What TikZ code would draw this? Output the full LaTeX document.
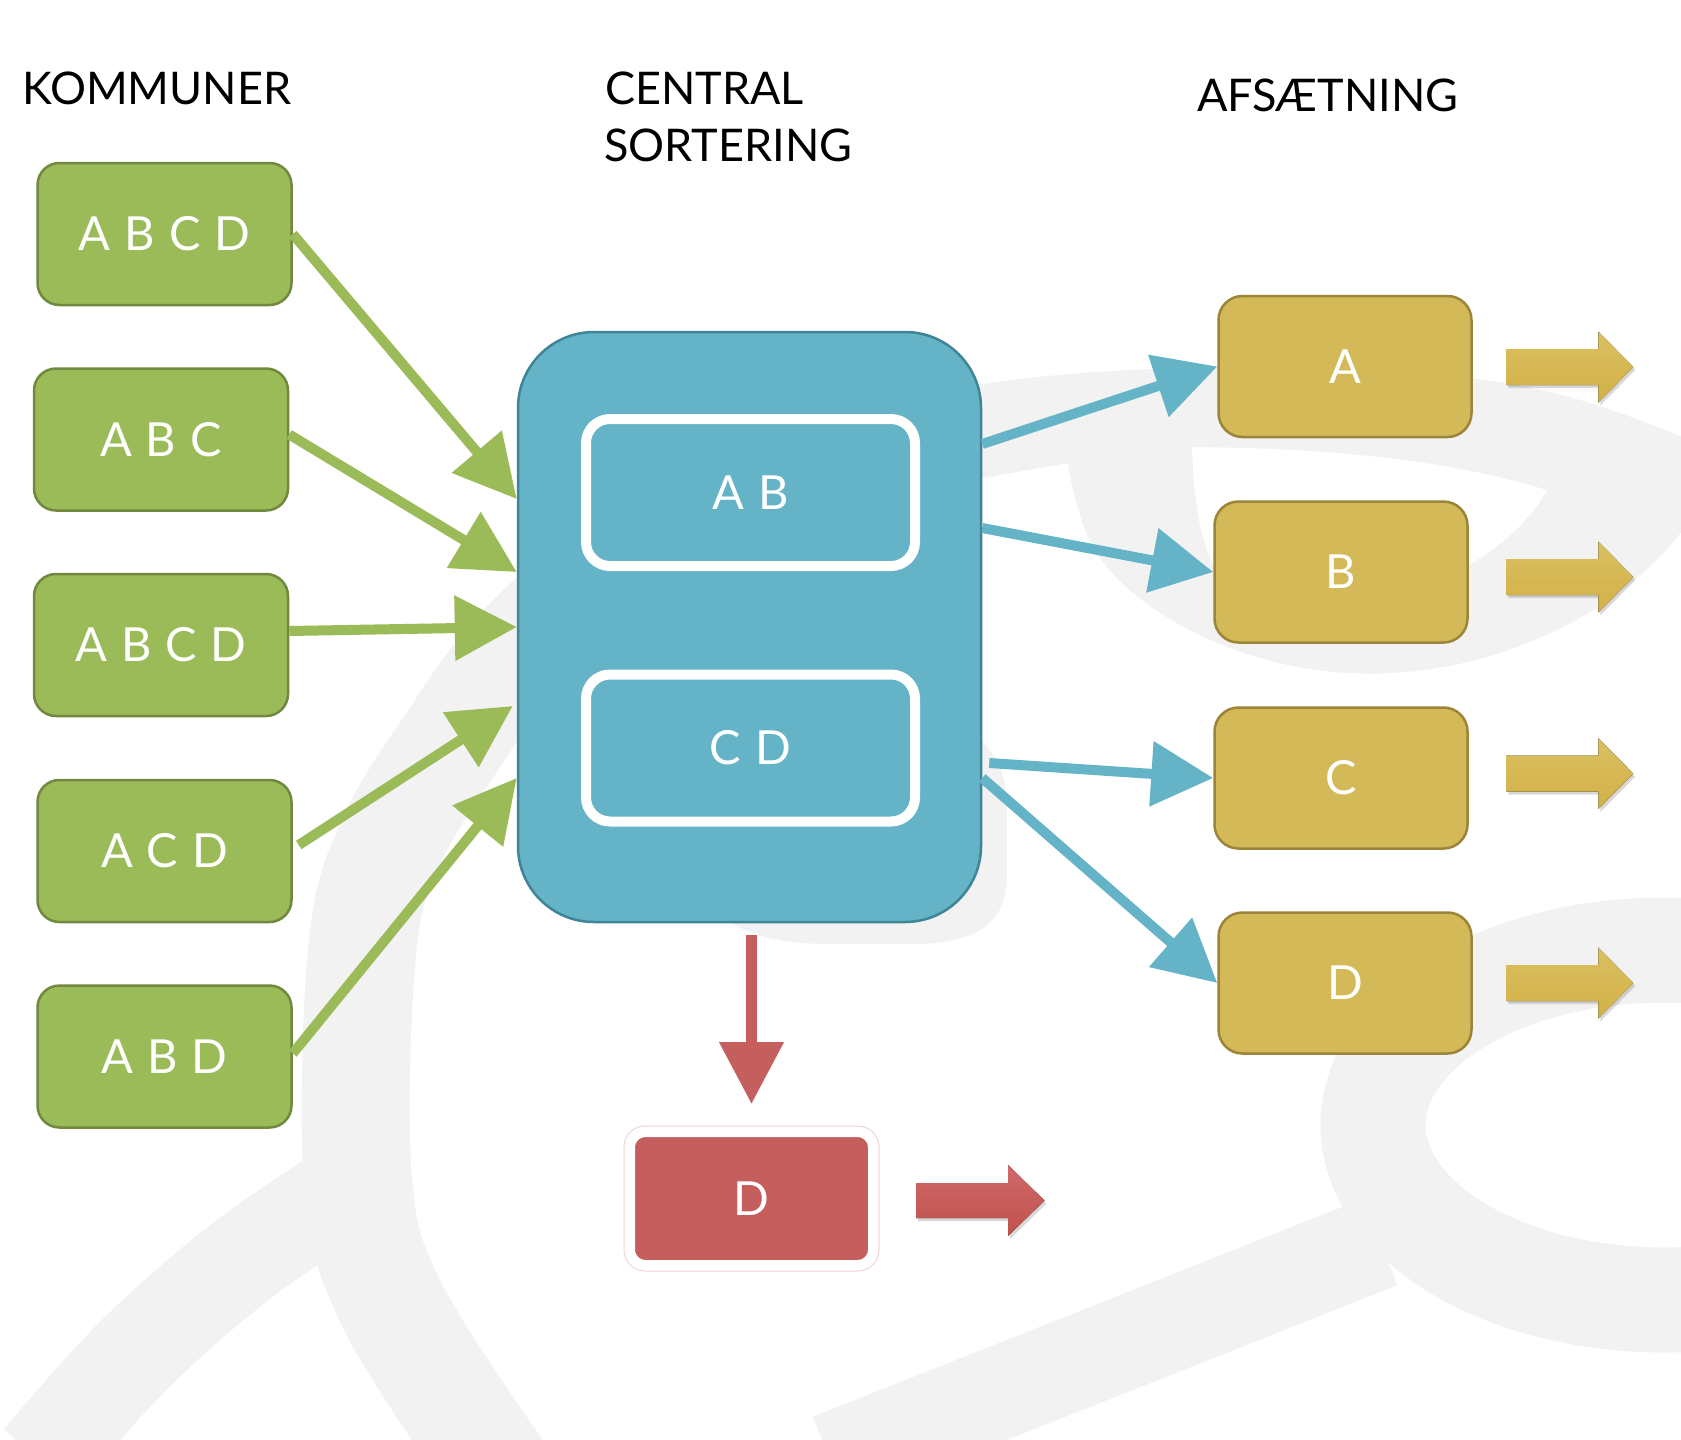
\documentclass[tikz,border=0pt]{standalone}
\usepackage{fontspec}
\setmainfont{Lato}
\newfontfamily\lato{Lato}
\usetikzlibrary{arrows.meta,shadows}
\definecolor{gfill}{HTML}{9BBB59}
\definecolor{gline}{HTML}{71893F}
\definecolor{bfill}{HTML}{64B3C7}
\definecolor{bline}{HTML}{3F8497}
\definecolor{yfill}{HTML}{D3B958}
\definecolor{yline}{HTML}{9C8438}
\definecolor{rfill}{HTML}{C55F5D}
\definecolor{rline}{HTML}{F2D4D4}
\definecolor{wmark}{HTML}{F2F2F2}
\definecolor{yarrtop}{HTML}{DAC062}
\definecolor{yarrbot}{HTML}{D2B046}
\definecolor{rarrtop}{HTML}{CF6A69}
\definecolor{rarrbot}{HTML}{C0504D}
\newcommand\lsp{\hspace{14pt}}
\begin{document}
\begin{tikzpicture}[x=1pt,y=-1pt,
  head/.style={inner sep=0pt, text=black, font=\lato\fontsize{45pt}{54pt}\selectfont},
  lbl/.style={text=white, font=\lato\fontsize{47pt}{56pt}\selectfont},
  gbox/.style={lbl, rounded corners=22pt, fill=gfill, draw=gline, line width=2.5pt, minimum width=254pt, minimum height=142pt},
  ybox/.style={lbl, rounded corners=24pt, fill=yfill, draw=yline, line width=2.5pt, minimum width=253pt, minimum height=141pt},
  inbox/.style={lbl, rounded corners=24pt, draw=white, line width=10pt, minimum width=329pt, minimum height=147pt},
  garrow/.style={draw=gfill, line width=10pt, -{Triangle[length=62pt,width=63pt]}},
  barrow/.style={draw=bfill, line width=10pt, -{Triangle[length=62pt,width=63pt]}},
  rarrow/.style={draw=rfill, line width=11pt, -{Triangle[length=62pt,width=62pt]}},
  yblock/.style={top color=yarrtop, bottom color=yarrbot, draw=none,
     drop shadow={shadow xshift=2pt, shadow yshift=-3pt, opacity=0.3}},
  rblock/.style={top color=rarrtop, bottom color=rarrbot, draw=none,
     drop shadow={shadow xshift=2pt, shadow yshift=-3pt, opacity=0.3}},
  wm/.style={draw=wmark, line cap=butt}
]
\useasboundingbox (0,0) rectangle (1681,1440);
\fill[white] (0,0) rectangle (1681,1440);

% ---------- watermark ----------
\draw[wm, line width=108pt] plot[smooth, tension=0.6] coordinates {(498,1470) (392,1305) (358,1180) (362,952) (390,844) (450,745) (520,650) (640,540)};
\draw[wm, line width=95pt] plot[smooth, tension=0.6] coordinates {(345,1190) (240,1262) (134,1355) (40,1460)};
\draw[wm, line width=93pt] plot[smooth, tension=0.6] coordinates {(1380,1242) (1100,1353) (830,1460)};
\draw[wm, line width=105pt] (1665,1125) ellipse [x radius=292pt, y radius=175pt];
\fill[wmark, even odd rule]
  (600,560) -- (960,388) .. controls (1100,362) and (1350,360) .. (1505,383)
  .. controls (1580,395) and (1640,420) .. (1690,440) -- (1690,520)
  .. controls (1620,620) and (1480,680) .. (1350,673)
  .. controls (1230,668) and (1110,600) .. (1085,530)
  .. controls (1075,500) and (1070,480) .. (1068,463) -- (960,482) -- (700,600) -- cycle
  (1192,447) .. controls (1330,448) and (1450,460) .. (1547,490)
  .. controls (1510,560) and (1400,610) .. (1300,615)
  .. controls (1220,610) and (1195,560) .. (1192,447) -- cycle;
\fill[wmark] (900,600) -- (981,740) .. controls (1000,760) and (1007,780) .. (1007,810) -- (1007,875)
  .. controls (1007,925) and (975,944) .. (910,944) -- (830,944)
  .. controls (780,944) and (745,935) .. (720,915) -- (720,700) -- cycle;

% ---------- headings ----------
\node[head, anchor=base west] (hkom) at (22,104) {KOMMUNER};
\node[head, anchor=base west] (hcen1) at (605,104) {CENTRAL};
\node[head, anchor=base west] (hcen2) at (604,161) {SORTERING};
\node[head, anchor=base west] (hafs) at (1197,111) {AFSÆTNING};

% ---------- boxes ----------
\node[gbox] (g1) at (164.5,234) {A\lsp B\lsp C\lsp D};
\node[gbox] (g2) at (161,439.5) {A\lsp B\lsp C};
\node[gbox] (g3) at (161,645) {A\lsp B\lsp C\lsp D};
\node[gbox] (g4) at (164.5,851) {A\lsp C\lsp D};
\node[gbox] (g5) at (164.5,1056.5) {A\lsp B\lsp D};

\node[rounded corners=76pt, fill=bfill, draw=bline, line width=2.5pt,
      minimum width=463pt, minimum height=590pt] (central) at (749.5,627) {};
\node[inbox] (ab) at (750.5,492.5) {A\lsp B};
\node[inbox] (cd) at (750.5,748) {C\lsp D};

\node[ybox] (yA) at (1345,366.5) {A};
\node[ybox] (yB) at (1341,572) {B};
\node[ybox] (yC) at (1341,778) {C};
\node[ybox] (yD) at (1345,983) {D};

\node[lbl, rounded corners=16pt, fill=rfill, draw=white, line width=11pt,
      minimum width=244pt, minimum height=134pt] (redD) at (751.5,1198.5) {D};
\draw[rline, line width=1pt, rounded corners=21pt]
  (redD.south west) rectangle (redD.north east);

% ---------- connectors ----------
\draw[garrow] (g1.east) -- ([yshift=128pt]central.west);
\draw[garrow] ([yshift=5pt]g2.east) -- ([yshift=55pt]central.west);
\draw[garrow] ([yshift=14pt]g3.east) -- (central.west);
\draw[garrow] ([xshift=6pt,yshift=6pt]g4.east) -- ([xshift=-4pt,yshift=-79pt]central.west);
\draw[garrow] ([yshift=3pt]g5.east) -- ([yshift=-151pt]central.west);

\draw[barrow] ([yshift=183pt]central.east) -- (yA.west);
\draw[barrow] ([yshift=99pt]central.east) -- (yB.west);
\draw[barrow] ([xshift=7pt,yshift=-136pt]central.east) -- (yC.west);
\draw[barrow] ([yshift=-151pt]central.east) -- (yD.west);

\draw[rarrow] ([yshift=-12pt]central.south -| redD.north) -- ([yshift=22pt]redD.north);

% ---------- block arrows ----------
\fill[yblock] ([xshift=33.5pt,yshift=-0.5pt]yA.east) -- ++(0pt,18pt) -- ++(92pt,0pt) -- ++(0pt,17.5pt) -- ++(35pt,-35.5pt) -- ++(-35pt,-35.5pt) -- ++(0pt,17.5pt) -- ++(-92pt,0pt) -- cycle;
\fill[yblock] ([xshift=37.5pt,yshift=-5pt]yB.east) -- ++(0pt,18pt) -- ++(92pt,0pt) -- ++(0pt,17.5pt) -- ++(35pt,-35.5pt) -- ++(-35pt,-35.5pt) -- ++(0pt,17.5pt) -- ++(-92pt,0pt) -- cycle;
\fill[yblock] ([xshift=37.5pt,yshift=4.4pt]yC.east) -- ++(0pt,18pt) -- ++(92pt,0pt) -- ++(0pt,17.5pt) -- ++(35pt,-35.5pt) -- ++(-35pt,-35.5pt) -- ++(0pt,17.5pt) -- ++(-92pt,0pt) -- cycle;
\fill[yblock] ([xshift=33.5pt]yD.east) -- ++(0pt,18pt) -- ++(92pt,0pt) -- ++(0pt,17.5pt) -- ++(35pt,-35.5pt) -- ++(-35pt,-35.5pt) -- ++(0pt,17.5pt) -- ++(-92pt,0pt) -- cycle;
\fill[rblock] ([xshift=37pt,yshift=-2pt]redD.east) -- ++(0pt,17.5pt) -- ++(92pt,0pt) -- ++(0pt,18pt) -- ++(36.5pt,-35.5pt) -- ++(-36.5pt,-35.5pt) -- ++(0pt,18pt) -- ++(-92pt,0pt) -- cycle;
\end{tikzpicture}
\end{document}
